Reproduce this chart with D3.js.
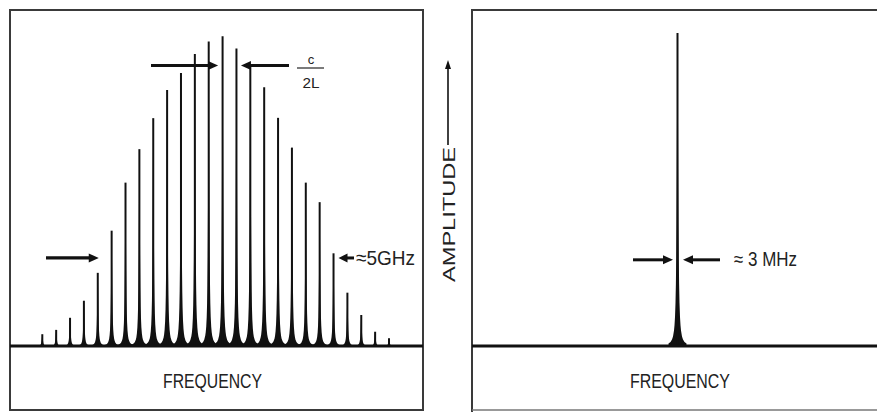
<!DOCTYPE html>
<html><head><meta charset="utf-8">
<script src="https://cdn.jsdelivr.net/npm/d3@7"></script>
<style>body{margin:0;background:#fff;overflow:hidden}</style>
</head><body>
<script>
// ---------- data ----------
const modeNumbers = [0,1,2,3,4,5,6,7,8,9,10,11,12,13,14,15,16,17,18,19,20,21,22,23,24,25];
const multiModeAmplitude = [3.8,5.2,9.1,14.6,23.6,37.2,52.7,63.5,73.5,82.6,88.1,94.2,98.2,99.9,96.0,90.3,83.5,73.6,64.0,52.7,46.4,29.9,17.2,10.0,4.6,2.5];
const singleModePosition = [0.5];
const singleModeAmplitude = [101];
const xAxisLabel = "FREQUENCY";
const yAxisLabel = "AMPLITUDE";
const spacingNumerator = "c";
const spacingDenominator = "2L";
const bandwidthLabel = "\u22485GHz";
const linewidthLabel = "\u2248 3 MHz";

// ---------- layout ----------
const W = 877, H = 412;
const topY = 10, bottomY = 410, baseY = 346;
const leftBox = [10, 423], rightBox = [472, 890];

const svg = d3.select("body").append("svg").attr("width", W).attr("height", H);

const xL = d3.scaleLinear().domain([0, 25]).range([42.3, 389]);
const xR = d3.scaleLinear().domain([0, 1]).range([472, 883]);
const yA = d3.scaleLinear().domain([0, 100]).range([baseY, 36]);

const ink = "#111";
const font = "'Liberation Sans', Arial, Helvetica, sans-serif";

// panel frames
svg.append("rect").attr("x", leftBox[0]).attr("y", topY)
  .attr("width", leftBox[1] - leftBox[0]).attr("height", bottomY - topY)
  .attr("fill", "none").attr("stroke", "#3a3a3a").attr("stroke-width", 2);
svg.append("path")
  .attr("d", `M${rightBox[1]},${topY}H${rightBox[0]}V${bottomY + 4}`)
  .attr("fill", "none").attr("stroke", "#3a3a3a").attr("stroke-width", 2);
svg.append("path")
  .attr("d", `M${rightBox[0]},${bottomY}H${rightBox[1]}`)
  .attr("fill", "none").attr("stroke", "#777").attr("stroke-width", 1.5);

// peak shape (Lorentzian foot + thin line)
const offsets = [-9,-7,-5.5,-4.5,-3.5,-3,-2.5,-2,-1.6,-1.3,-1,-0.7,-0.4,-0.2,0,0.2,0.4,0.7,1,1.3,1.6,2,2.5,3,3.5,4.5,5.5,7,9];
const area = d3.area().x(d => d[0]).y0(baseY).y1(d => d[1]);
function drawPeak(g, cx, ty, gamma) {
  const A = baseY - ty;
  const pts = offsets.map(o => [cx + o, baseY - A * gamma * gamma / (o * o + gamma * gamma)]);
  g.append("path").attr("d", area(pts)).attr("fill", ink);
  g.append("line").attr("x1", cx).attr("x2", cx).attr("y1", baseY).attr("y2", ty)
    .attr("stroke", ink).attr("stroke-width", 2);
}

const gL = svg.append("g");
modeNumbers.forEach((m, i) => drawPeak(gL, xL(m), yA(multiModeAmplitude[i]), 0.65));
const gR = svg.append("g");
singleModePosition.forEach((p, i) => drawPeak(gR, xR(p), yA(singleModeAmplitude[i]), 0.8));

// baselines
svg.append("line").attr("x1", leftBox[0]).attr("x2", leftBox[1]).attr("y1", baseY).attr("y2", baseY)
  .attr("stroke", ink).attr("stroke-width", 3);
svg.append("line").attr("x1", rightBox[0]).attr("x2", W).attr("y1", baseY).attr("y2", baseY)
  .attr("stroke", ink).attr("stroke-width", 3);

// arrows
function arrow(x1, y1, x2, y2, sw, hl, hw) {
  const dx = x2 - x1, dy = y2 - y1, len = Math.hypot(dx, dy);
  const ux = dx / len, uy = dy / len;
  const bx = x2 - ux * hl, by = y2 - uy * hl;
  svg.append("line").attr("x1", x1).attr("y1", y1).attr("x2", bx + ux).attr("y2", by + uy)
    .attr("stroke", ink).attr("stroke-width", sw);
  svg.append("path")
    .attr("d", `M${x2},${y2}L${bx - uy * hw},${by + ux * hw}L${bx + uy * hw},${by - ux * hw}Z`)
    .attr("fill", ink);
}
const yTopArrow = yA(90.5);
arrow(151, yTopArrow, xL(13) - 4.5, yTopArrow, 3, 10, 4.5);
arrow(289, yTopArrow, xL(14) + 4.5, yTopArrow, 3, 10, 4.5);

const yBand = yA(28.4);
arrow(46, yBand, xL(4) + 1, yBand, 3.2, 10, 4.5);
arrow(354, yBand, xL(21) + 5, yBand, 3, 9, 4.5);

const yLw = yA(27.8);
arrow(633, yLw, xR(singleModePosition[0]) - 4.5, yLw, 3, 10, 4.5);
arrow(720, yLw, xR(singleModePosition[0]) + 5.5, yLw, 3, 10, 4.5);

// amplitude axis arrow
arrow(448, 145, 448, 60, 1.6, 9, 3);

// texts
function txt(s, x, y, size, len, anchor) {
  const t = svg.append("text").attr("x", x).attr("y", y).text(s)
    .attr("font-family", font).attr("font-size", size).attr("fill", "#222")
    .attr("text-anchor", anchor || "start");
  if (len) t.attr("textLength", len).attr("lengthAdjust", "spacingAndGlyphs");
  return t;
}
txt(xAxisLabel, 163, 388, 21, 99);
txt(xAxisLabel, 630, 388, 21, 100);
txt(bandwidthLabel, 356, 265, 21, 59);
txt(linewidthLabel, 734, 266, 20, 63);

// c / 2L fraction
txt(spacingNumerator, 311, 64, 13, null, "middle");
svg.append("line").attr("x1", 297).attr("x2", 324).attr("y1", 68).attr("y2", 68)
  .attr("stroke", "#333").attr("stroke-width", 1.3);
txt(spacingDenominator, 311, 88, 15, 17, "middle");

// AMPLITUDE rotated
svg.append("text").attr("transform", "translate(455,282) rotate(-90)")
  .text(yAxisLabel).attr("font-family", font).attr("font-size", 17).attr("fill", "#222")
  .attr("textLength", 135).attr("lengthAdjust", "spacingAndGlyphs");
</script>
</body></html>
